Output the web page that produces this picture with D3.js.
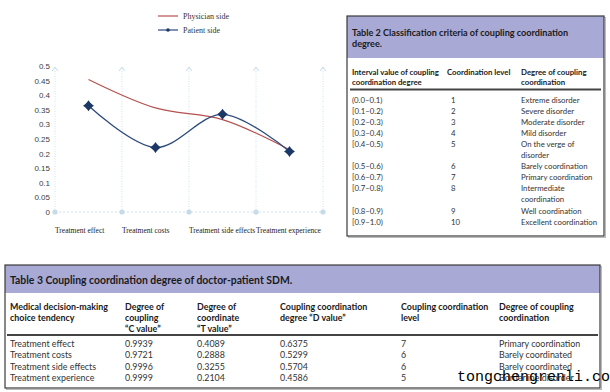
<!DOCTYPE html>
<html><head><meta charset="utf-8">
<script src="https://cdn.jsdelivr.net/npm/d3@7"></script>
<style>body{margin:0;background:#fff}svg{display:block}</style>
</head><body><svg id="c" width="610" height="392"></svg>
<script>
// ---------- DATA ----------
const categories = ["Treatment effect","Treatment costs","Treatment side effects","Treatment experience"];
const seriesNames = ["Physician side","Patient side"];
const physician = [0.454,0.3565,0.3164,0.2135];
const patient = [0.3638,0.2211,0.3346,0.2074];
const yTicks = [0,0.05,0.1,0.15,0.2,0.25,0.3,0.35,0.4,0.45,0.5];
const yTickLabels = ["0","0.05","0.1","0.15","0.2","0.25","0.3","0.35","0.4","0.45","0.5"];

const t2Title = ["Table 2 Classification criteria of coupling coordination","degree."];
const t2Headers = [["Interval value of coupling","coordination degree"],["Coordination level"],["Degree of coupling","coordination"]];
const t2Intervals = ["(0.0–0.1)","[0.1–0.2)","[0.2–0.3)","[0.3–0.4)","[0.4–0.5)","[0.5–0.6)","[0.6–0.7)","[0.7–0.8)","[0.8–0.9)","[0.9–1.0)"];
const t2Levels = ["1","2","3","4","5","6","7","8","9","10"];
const t2Degrees = [["Extreme disorder"],["Severe disorder"],["Moderate disorder"],["Mild disorder"],["On the verge of","disorder"],["Barely coordination"],["Primary coordination"],["Intermediate","coordination"],["Well coordination"],["Excellent coordination"]];

const t3Title = "Table 3 Coupling coordination degree of doctor-patient SDM.";
const t3Headers = [["Medical decision-making","choice tendency"],["Degree of","coupling","“C value”"],["Degree of","coordinate","“T value”"],["Coupling coordination","degree “D value”"],["Coupling coordination","level"],["Degree of coupling","coordination"]];
const t3Tendency = ["Treatment effect","Treatment costs","Treatment side effects","Treatment experience"];
const t3C = ["0.9939","0.9721","0.9996","0.9999"];
const t3T = ["0.4089","0.2888","0.3255","0.2104"];
const t3D = ["0.6375","0.5299","0.5704","0.4586"];
const t3Level = ["7","6","6","5"];
const t3Degree = ["Primary coordination","Barely coordinated","Barely coordinated","Borderline disorder"];

const watermark = "tongchengrenli.com";

// ---------- CHART ----------
const svg = d3.select("#c");
svg.append("rect").attr("width",610).attr("height",392).attr("fill","#fff");

const x = d3.scaleBand().domain(categories).range([55,323]).padding(0);
const y = d3.scaleLinear().domain([0,0.5]).range([212,66]);
const cx = c => x(c) + x.bandwidth()/2;

const g = svg.append("g");
const gridXs = categories.map(c => x(c)).concat([x.range()[1]]);
g.append("line").attr("x1",x.range()[0]).attr("x2",x.range()[1]).attr("y1",y(0)).attr("y2",y(0))
  .attr("stroke","#cfe2ee").attr("stroke-width",1).attr("stroke-dasharray","2,2");
gridXs.forEach(gx => {
  g.append("line").attr("x1",gx).attr("x2",gx).attr("y1",y(0)).attr("y2",y(0.5)+2)
    .attr("stroke","#cfe2ee").attr("stroke-width",1).attr("stroke-dasharray","1,1.5");
  g.append("path").attr("d",`M${gx-2.8},${y(0.5)+5} L${gx},${y(0.5)+1} L${gx+2.8},${y(0.5)+5}`)
    .attr("fill","none").attr("stroke","#c4dbea").attr("stroke-width",1);
  g.append("circle").attr("cx",gx).attr("cy",y(0)).attr("r",2.6).attr("fill","#c6dbe8");
});

const yAxis = d3.axisLeft(y).tickValues(yTicks).tickFormat((d,i)=>yTickLabels[i]).tickSize(0).tickPadding(3);
const ya = svg.append("g").attr("transform","translate(53,0)").call(yAxis);
ya.select(".domain").remove();
ya.selectAll("text").attr("font-family","Liberation Sans, Arial, sans-serif").attr("font-size",8).attr("fill","#404040");

svg.append("g").selectAll("text").data(categories).join("text")
  .attr("x",d => x(d)).attr("y",233)
  .attr("font-family","Liberation Serif, Times New Roman, serif").attr("font-size",7.5).attr("fill","#222")
  .text(d => d);

const line = d3.line().x((d,i)=>cx(categories[i])).y(d=>y(d)).curve(d3.curveCatmullRom.alpha(0.5));
const redC = "#b4524f", blueC = "#2d4a7c", markC = "#1b3866";
svg.append("path").attr("d",line(physician)).attr("fill","none").attr("stroke",redC).attr("stroke-width",1.2);
svg.append("path").attr("d",line(patient)).attr("fill","none").attr("stroke",blueC).attr("stroke-width",1.3);

const star4 = {draw(ctx,size){const r=Math.sqrt(size)/2,k=r*0.42;ctx.moveTo(0,-r);ctx.lineTo(k,-k);ctx.lineTo(r,0);ctx.lineTo(k,k);ctx.lineTo(0,r);ctx.lineTo(-k,k);ctx.lineTo(-r,0);ctx.lineTo(-k,-k);ctx.closePath();}};
const sym = d3.symbol().type(star4).size(120);
const mk = svg.append("g").selectAll("g").data(patient).join("g")
  .attr("transform",(d,i)=>`translate(${cx(categories[i])},${y(d)})`);
mk.append("path").attr("d",sym).attr("fill",markC);
mk.append("circle").attr("r",3.2).attr("fill",markC);

const lg = svg.append("g");
[redC, blueC].forEach((col,i) => {
  const ly = 16 + i*14;
  lg.append("line").attr("x1",158).attr("x2",178).attr("y1",ly).attr("y2",ly).attr("stroke",col).attr("stroke-width",1.2);
  if (i===1) lg.append("circle").attr("cx",168).attr("cy",ly).attr("r",1.8).attr("fill",markC);
  lg.append("text").attr("x",183).attr("y",ly+3).attr("font-family","Liberation Serif, Times New Roman, serif")
    .attr("font-size",8).attr("fill","#333").text(seriesNames[i]);
});

// ---------- TABLES ----------
const tf = "Lato, 'Open Sans', sans-serif";
const headFill = "#a9a9d6";
const txtCol = "#333";

function box(x0,y0,w,h,hh){
  svg.append("rect").attr("x",x0+1.5).attr("y",y0+1.5).attr("width",w).attr("height",h).attr("fill","none").attr("stroke","#bbb").attr("stroke-width",1);
  svg.append("rect").attr("x",x0).attr("y",y0).attr("width",w).attr("height",h).attr("fill","#fff");
  svg.append("rect").attr("x",x0).attr("y",y0).attr("width",w).attr("height",hh).attr("fill",headFill);
  svg.append("rect").attr("x",x0).attr("y",y0).attr("width",w).attr("height",h).attr("fill","none").attr("stroke","#3a3a3a").attr("stroke-width",1.2);
}
function txt(x0,y0,s,opt){
  return svg.append("text").attr("x",x0).attr("y",y0).attr("font-family",tf)
    .attr("font-size",opt.size).attr("font-weight",opt.bold?"bold":"normal").attr("fill",opt.col||txtCol).text(s);
}

// Table 2
box(347,16,257,220,42);
t2Title.forEach((s,i)=>txt(352,35.5+i*11,s,{size:9.1,bold:true,col:"#1a1a1a"}));
const t2x = [352,447,521];
t2Headers.forEach((lines,j)=>lines.forEach((s,k)=>txt(t2x[j],75+k*9.5,s,{size:7.8,bold:true,col:"#1a1a1a"})));
svg.append("line").attr("x1",350).attr("x2",601).attr("y1",89.5).attr("y2",89.5).attr("stroke","#444").attr("stroke-width",2);
let ln = 0;
t2Intervals.forEach((iv,i)=>{
  const yy = 102.5 + ln*11.1;
  txt(t2x[0],yy,iv,{size:7.8});
  txt(451,yy,t2Levels[i],{size:7.8});
  t2Degrees[i].forEach((s,k)=>txt(t2x[2],yy+k*11.1,s,{size:7.8}));
  ln += t2Degrees[i].length;
});

// Table 3
box(5,265,595,123,28);
txt(10,283.5,t3Title,{size:10.4,bold:true,col:"#1a1a1a"});
const t3x = [10,125,197,280,401,499];
t3Headers.forEach((lines,j)=>lines.forEach((s,k)=>txt(t3x[j],310+k*11,s,{size:8.9,bold:true,col:"#1a1a1a"})));
svg.append("line").attr("x1",7).attr("x2",598).attr("y1",335).attr("y2",335).attr("stroke","#444").attr("stroke-width",2);
const t3cols = [t3Tendency,t3C,t3T,t3D,t3Level,t3Degree];
t3Tendency.forEach((_,i)=>{
  const yy = 347 + i*11.3;
  t3cols.forEach((col,j)=>txt(t3x[j],yy,col[i],{size:8.9}));
});

svg.append("text").attr("x",457).attr("y",381).attr("font-family","'Liberation Mono', 'DejaVu Sans Mono', monospace")
  .attr("font-size",15).attr("fill","#000").text(watermark);
</script></body></html>
